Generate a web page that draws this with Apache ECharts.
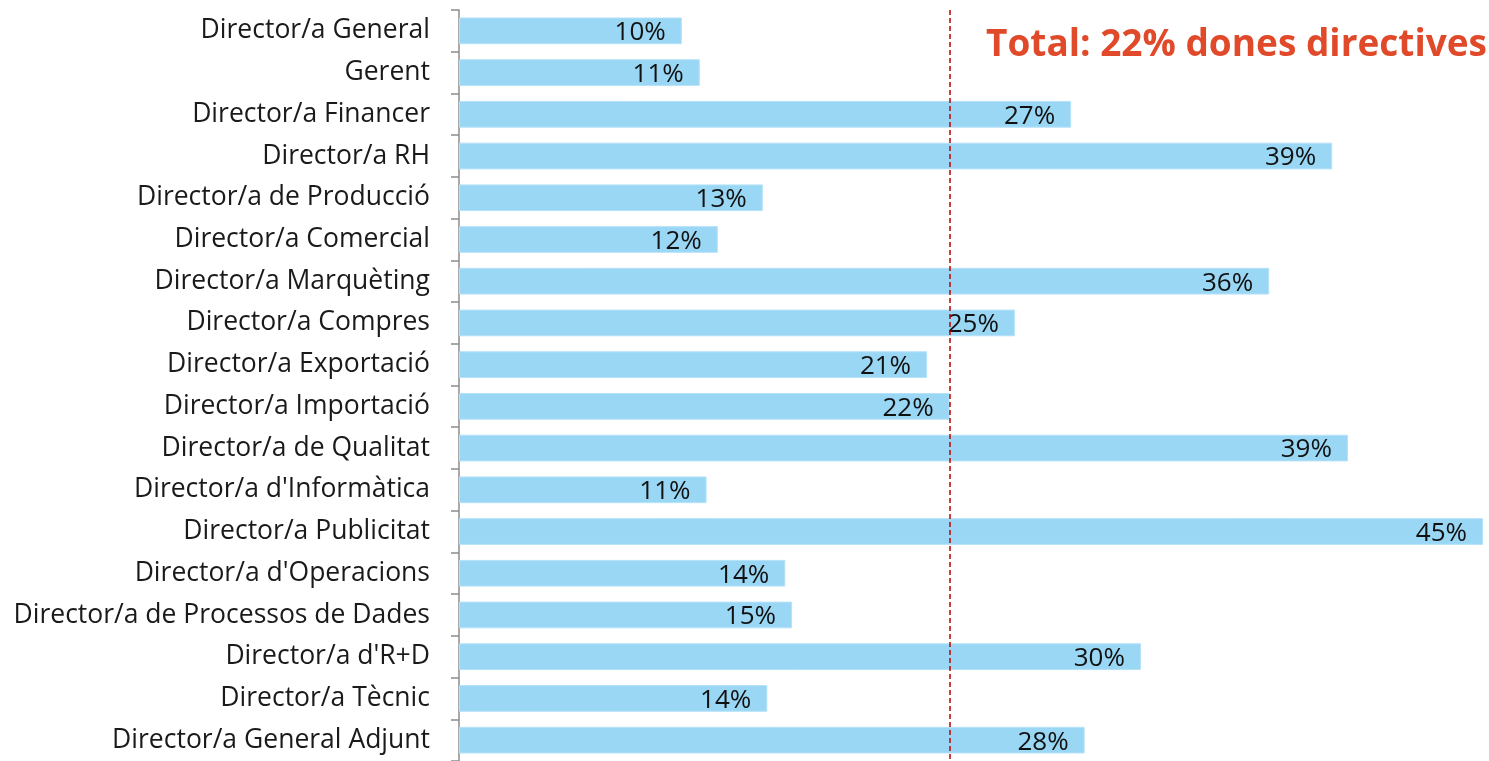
<!DOCTYPE html>
<html>
<head>
<meta charset="utf-8">
<script src="https://cdn.jsdelivr.net/npm/echarts@6/dist/echarts.min.js"></script>
<style>
  html, body { margin: 0; padding: 0; background: #fff; }
  #chart { width: 1489px; height: 761px; }
</style>
</head>
<body>
<div id="chart"></div>
<script>
// categories, top to bottom
const categories = [
  'Director/a General',
  'Gerent',
  'Director/a Financer',
  'Director/a RH',
  'Director/a de Producció',
  'Director/a Comercial',
  'Director/a Marquèting',
  'Director/a Compres',
  'Director/a Exportació',
  'Director/a Importació',
  'Director/a de Qualitat',
  "Director/a d'Informàtica",
  'Director/a Publicitat',
  "Director/a d'Operacions",
  'Director/a de Processos de Dades',
  "Director/a d'R+D",
  'Director/a Tècnic',
  'Director/a General Adjunt'
]
// % women in each role
const values = [9.9, 10.7, 27.2, 38.8, 13.5, 11.5, 36.0, 24.7, 20.8, 21.8, 39.5, 11.0, 45.5, 14.5, 14.8, 30.3, 13.7, 27.8]
// printed labels
const labels = ['10%', '11%', '27%', '39%', '13%', '12%', '36%', '25%', '21%', '22%', '39%', '11%', '45%', '14%', '15%', '30%', '14%', '28%']
const totalValue = 21.8
const totalText = 'Total: 22% dones directives'

const chart = echarts.init(document.getElementById('chart'))
chart.setOption({
  backgroundColor: '#fff',
  animation: false,
  textStyle: { fontFamily: 'Open Sans' },
  title: {
    text: totalText,
    right: 2,
    top: 27,
    padding: 0,
    textStyle: { color: '#e04a2a', fontSize: 37, fontWeight: 'bold', fontFamily: 'Open Sans' }
  },
  grid: { left: 459, right: 6, top: 10, height: 754 },
  xAxis: {
    type: 'value',
    min: 0,
    max: 45.5,
    show: false
  },
  yAxis: {
    type: 'category',
    inverse: true,
    data: categories,
    axisLine: { lineStyle: { color: '#8c8c8c', width: 1.5 } },
    axisTick: { show: true, length: 8, lineStyle: { color: '#8c8c8c', width: 1.5 } },
    axisLabel: { fontSize: 26.5, color: '#1a1a1a', margin: 29, fontFamily: 'Open Sans' },
    splitLine: { show: false }
  },
  series: [{
    type: 'bar',
    data: values,
    barCategoryGap: '36%',
    itemStyle: { color: '#9ad7f5', borderColor: '#b5e2f8', borderWidth: 1 },
    label: {
      show: true,
      position: 'insideRight',
      distance: 16,
      fontSize: 26,
      color: '#111',
      fontFamily: 'Open Sans',
      offset: [0, 2],
      formatter: p => labels[p.dataIndex]
    },
    markLine: {
      symbol: 'none',
      silent: true,
      label: { show: false },
      lineStyle: { color: '#c00000', type: [5, 3], width: 1.5 },
      data: [{ xAxis: totalValue }]
    },
    z: 2
  }]
})
</script>
</body>
</html>
